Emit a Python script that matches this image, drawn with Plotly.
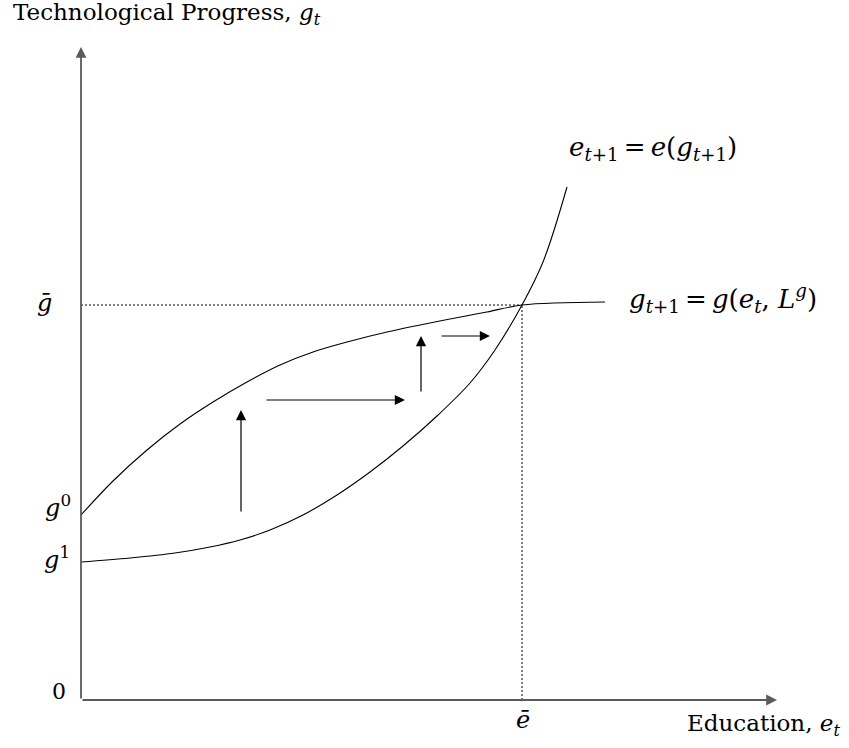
import plotly.graph_objects as go

# Schematic data (units: arbitrary, origin at axes corner)
upper_e = [0, 32, 66, 99, 132, 166, 199, 232, 266, 306, 369, 406, 441, 524]
upper_g = [185, 219, 250, 276, 298, 318, 335, 348, 358, 368, 381, 388, 395, 398]

lower_e = [0, 49, 94, 129, 159, 189, 222, 256, 289, 322, 356, 389, 414, 441, 462, 486]
lower_g = [138, 142, 147, 153, 160, 170, 185, 205, 228, 254, 284, 317, 350, 395, 438, 513]

e_bar = 441
g_bar = 395
g0 = 185
g1 = 138

# dynamics arrows: (tail_e, tail_g, tip_e, tip_g)
arrows_tail_e = [160, 184, 340, 359]
arrows_tail_g = [187, 300, 307, 364]
arrows_tip_e = [160, 324, 340, 409]
arrows_tip_g = [290, 300, 364, 364]

x_axis_end = 696
y_axis_end = 653

SERIF = "DejaVu Serif"
SP = "\u2009"

fig = go.Figure()
fig.add_trace(go.Scatter(x=upper_e, y=upper_g, mode="lines",
                         line=dict(color="black", width=1.1, shape="spline", smoothing=1.0),
                         hoverinfo="skip", showlegend=False))
fig.add_trace(go.Scatter(x=lower_e, y=lower_g, mode="lines",
                         line=dict(color="black", width=1.1, shape="spline", smoothing=1.0),
                         hoverinfo="skip", showlegend=False))

# dotted guide lines
fig.add_shape(type="line", x0=0, y0=g_bar, x1=e_bar, y1=g_bar,
              line=dict(color="black", width=1, dash="2px,2px"))
fig.add_shape(type="line", x0=e_bar, y0=0, x1=e_bar, y1=g_bar,
              line=dict(color="black", width=1, dash="2px,2px"))

ann = []
# axes with arrowheads
ann.append(dict(x=x_axis_end, y=0, ax=0, ay=0, xref="x", yref="y", axref="x", ayref="y",
                text="", showarrow=True, arrowhead=2, arrowsize=1.2, arrowwidth=1.8,
                arrowcolor="#5a5a5a"))
ann.append(dict(x=0, y=y_axis_end, ax=0, ay=0, xref="x", yref="y", axref="x", ayref="y",
                text="", showarrow=True, arrowhead=2, arrowsize=1.2, arrowwidth=1.8,
                arrowcolor="#5a5a5a"))
for te, tg, pe, pg in zip(arrows_tail_e, arrows_tail_g, arrows_tip_e, arrows_tip_g):
    ann.append(dict(x=pe, y=pg, ax=te, ay=tg, xref="x", yref="y", axref="x", ayref="y",
                    text="", showarrow=True, arrowhead=2, arrowsize=1.7, arrowwidth=1.2,
                    arrowcolor="black"))

def label(x, y, text, xanchor="center", size=22):
    ann.append(dict(x=x, y=y, xref="x", yref="y", text=text, showarrow=False,
                    xanchor=xanchor, yanchor="middle",
                    font=dict(family=SERIF, size=size, color="black")))

label(-70, 686, "Technological Progress, <i>g</i><sub><i>t</i></sub>", xanchor="left", size=23)
label(604, -25, "Education, <i>e</i><sub><i>t</i></sub>", xanchor="left", size=23)
label(-27, 397, "<i>\u1e21</i>", xanchor="right", size=24)
label(-8, 194, "<i>g</i><sup>0</sup>", xanchor="right", size=24)
label(-9, 142, "<i>g</i><sup>1</sup>", xanchor="right", size=24)
label(-13, 9, "0", xanchor="right", size=22)
label(442, -20, "<i>\u0113</i>", size=24)
label(486, 552, "<i>e</i><sub><i>t</i>+1</sub>" + SP + "=" + SP + "<i>e</i>(<i>g</i><sub><i>t</i>+1</sub>)",
      xanchor="left", size=26)
label(546, 402, "<i>g</i><sub><i>t</i>+1</sub>" + SP + "=" + SP + "<i>g</i>(<i>e</i><sub><i>t</i></sub>, <i>L</i><sup><i>g</i></sup>)",
      xanchor="left", size=26)

fig.update_layout(
    width=849, height=748,
    margin=dict(l=0, r=0, t=0, b=0, pad=0),
    paper_bgcolor="white", plot_bgcolor="white",
    xaxis=dict(range=[-81, 768], visible=False, fixedrange=True),
    yaxis=dict(range=[-48, 700], visible=False, fixedrange=True),
    annotations=ann,
    showlegend=False,
)

fig.write_html("out.html", config={"displayModeBar": False},
               post_script="document.body.style.margin='0';")
